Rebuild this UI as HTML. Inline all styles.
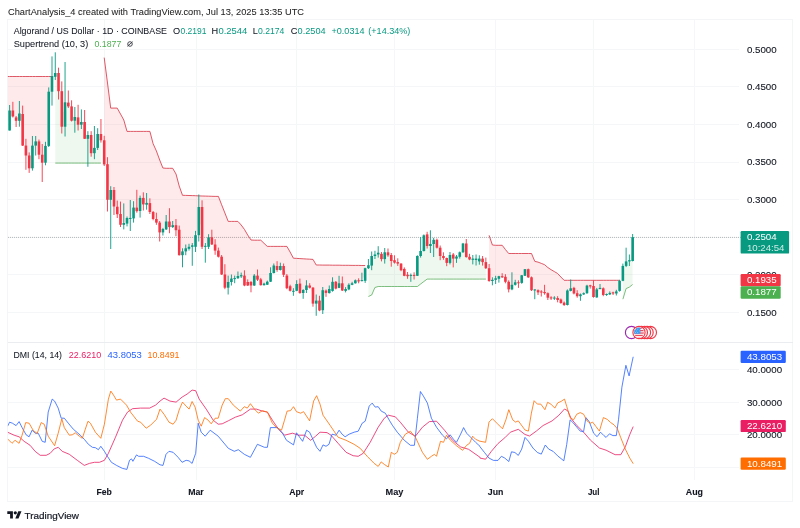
<!DOCTYPE html>
<html><head><meta charset="utf-8"><title>ChartAnalysis_4</title>
<style>
html,body{margin:0;padding:0;background:#fff;}
body{width:800px;height:528px;overflow:hidden;font-family:"Liberation Sans",sans-serif;}
svg{display:block}
svg text{font-family:"Liberation Sans",sans-serif;}
</style></head><body>
<svg width="800" height="528" viewBox="0 0 800 528" style="opacity:0.999;will-change:transform">
<rect width="800" height="528" fill="#fff"/>
<text x="8" y="14.8" font-size="9.4" fill="#1e1e1e" stroke="#1e1e1e" stroke-width="0.05" textLength="296.0" lengthAdjust="spacingAndGlyphs">ChartAnalysis_4 created with TradingView.com, Jul 13, 2025 13:35 UTC</text>
<defs><clipPath id="cm"><rect x="7.5" y="19.5" width="731.5" height="323.0"/></clipPath><clipPath id="cd"><rect x="7.5" y="342.5" width="731.5" height="137.5"/></clipPath></defs>
<g stroke="#f5f6f8" stroke-width="1" shape-rendering="crispEdges">
<line x1="104.2" y1="19.5" x2="104.2" y2="480.0"/><line x1="196.0" y1="19.5" x2="196.0" y2="480.0"/><line x1="296.7" y1="19.5" x2="296.7" y2="480.0"/><line x1="394.5" y1="19.5" x2="394.5" y2="480.0"/><line x1="495.6" y1="19.5" x2="495.6" y2="480.0"/><line x1="593.7" y1="19.5" x2="593.7" y2="480.0"/><line x1="694.4" y1="19.5" x2="694.4" y2="480.0"/><line x1="7.5" y1="49.3" x2="739.0" y2="49.3"/><line x1="7.5" y1="86.9" x2="739.0" y2="86.9"/><line x1="7.5" y1="124.5" x2="739.0" y2="124.5"/><line x1="7.5" y1="162.1" x2="739.0" y2="162.1"/><line x1="7.5" y1="199.7" x2="739.0" y2="199.7"/><line x1="7.5" y1="237.3" x2="739.0" y2="237.3"/><line x1="7.5" y1="274.9" x2="739.0" y2="274.9"/><line x1="7.5" y1="312.5" x2="739.0" y2="312.5"/><line x1="7.5" y1="369.8" x2="739.0" y2="369.8"/><line x1="7.5" y1="402.3" x2="739.0" y2="402.3"/><line x1="7.5" y1="434.6" x2="739.0" y2="434.6"/><line x1="7.5" y1="467.0" x2="739.0" y2="467.0"/></g>
<line x1="8" y1="237.4" x2="741" y2="237.4" stroke="#8a9190" stroke-width="1" stroke-dasharray="1 1" opacity="0.6"/>
<g clip-path="url(#cm)">
<polygon points="7.5,76.5 9.6,76.5 12.9,76.5 16.1,76.5 19.4,76.5 22.6,76.5 25.9,76.5 29.2,76.5 32.4,76.5 35.7,76.5 39.0,76.5 42.2,76.5 45.5,76.5 48.7,76.5 52.0,76.5 52.0,83.8 48.7,118.8 45.5,154.3 42.2,158.7 39.0,148.1 35.7,143.5 32.4,156.9 29.2,161.9 25.9,150.6 22.6,129.8 19.4,117.2 16.1,119.1 12.9,113.5 9.6,120.5 7.5,120.5" fill="#f23645" fill-opacity="0.105"/>
<polyline points="7.5,76.5 9.6,76.5 12.9,76.5 16.1,76.5 19.4,76.5 22.6,76.5 25.9,76.5 29.2,76.5 32.4,76.5 35.7,76.5 39.0,76.5 42.2,76.5 45.5,76.5 48.7,76.5 52.0,76.5" fill="none" stroke="#d83d4d" stroke-width="0.9" stroke-linejoin="round" stroke-opacity="0.95"/>
<polygon points="55.3,163.1 58.5,163.1 61.8,163.1 65.1,163.1 68.3,163.1 71.6,163.1 74.8,163.1 78.1,163.1 81.4,163.1 84.6,163.1 87.9,163.1 91.1,163.1 94.4,163.1 97.7,163.1 100.9,163.1 100.9,137.2 97.7,140.9 94.4,150.6 91.1,144.1 87.9,136.9 84.6,130.4 81.4,123.3 78.1,121.1 74.8,118.8 71.6,113.6 68.3,104.5 65.1,114.5 61.8,109.0 58.5,82.1 55.3,74.9" fill="#4caf50" fill-opacity="0.092"/>
<polyline points="55.3,163.1 58.5,163.1 61.8,163.1 65.1,163.1 68.3,163.1 71.6,163.1 74.8,163.1 78.1,163.1 81.4,163.1 84.6,163.1 87.9,163.1 91.1,163.1 94.4,163.1 97.7,163.1 100.9,163.1" fill="none" stroke="#4aa64e" stroke-width="0.9" stroke-linejoin="round" stroke-opacity="0.8"/>
<polygon points="104.2,57.6 107.5,83.0 110.7,108.1 114.0,108.1 117.2,108.1 120.5,114.0 123.8,120.0 127.0,131.4 130.3,131.4 133.6,131.4 136.8,131.4 140.1,131.4 143.3,131.4 146.6,131.4 149.9,131.4 153.1,143.7 156.4,151.0 159.7,160.0 162.9,168.0 166.2,168.3 169.4,168.3 172.7,168.3 176.0,174.0 179.2,186.0 182.5,195.3 185.7,195.4 189.0,195.5 192.3,195.6 195.5,195.7 198.8,195.9 202.1,196.0 205.3,196.1 208.6,196.2 211.8,196.3 215.1,196.4 218.4,196.4 221.6,204.7 224.9,213.0 228.2,221.4 231.4,221.4 234.7,221.4 237.9,221.4 241.2,225.0 244.5,229.5 247.7,235.0 251.0,240.0 254.2,240.2 257.5,240.2 260.8,240.2 264.0,243.3 267.3,246.4 270.6,246.4 273.8,246.4 277.1,246.4 280.3,246.4 283.6,246.4 286.9,246.4 290.1,252.0 293.4,258.2 296.7,258.4 299.9,258.6 303.2,258.8 306.4,259.0 309.7,259.2 313.0,259.4 316.2,265.0 319.5,265.0 322.8,265.1 326.0,265.1 329.3,265.1 332.5,265.2 335.8,265.2 339.1,265.2 342.3,265.3 345.6,265.3 348.8,265.3 352.1,265.4 355.4,265.4 358.6,265.4 361.9,265.5 365.2,265.5 365.2,274.5 361.9,280.6 358.6,280.9 355.4,281.8 352.1,284.1 348.8,287.1 345.6,289.9 342.3,286.9 339.1,285.6 335.8,285.2 332.5,286.4 329.3,291.1 326.0,291.8 322.8,300.2 319.5,305.6 316.2,302.1 313.0,295.6 309.7,286.6 306.4,287.8 303.2,291.5 299.9,288.3 296.7,287.4 293.4,291.3 290.1,288.5 286.9,281.9 283.6,270.4 280.3,268.0 277.1,268.0 273.8,269.2 270.6,277.4 267.3,283.2 264.0,284.4 260.8,282.3 257.5,277.6 254.2,280.6 251.0,283.8 247.7,283.8 244.5,280.6 241.2,275.8 237.9,277.1 234.7,278.6 231.4,280.3 228.2,284.9 224.9,281.1 221.6,265.6 218.4,253.6 215.1,247.6 211.8,240.9 208.6,242.1 205.3,246.3 202.1,226.9 198.8,221.1 195.5,241.0 192.3,246.1 189.0,247.8 185.7,249.9 182.5,253.3 179.2,242.4 176.0,227.7 172.7,226.1 169.4,224.3 166.2,225.4 162.9,230.7 159.7,227.5 156.4,220.8 153.1,215.5 149.9,207.6 146.6,203.8 143.3,201.2 140.1,204.4 136.8,209.4 133.6,213.0 130.3,218.4 127.0,220.8 123.8,223.9 120.5,219.4 117.2,210.4 114.0,198.2 110.7,194.9 107.5,182.0 104.2,152.4" fill="#f23645" fill-opacity="0.105"/>
<polyline points="104.2,57.6 107.5,83.0 110.7,108.1 114.0,108.1 117.2,108.1 120.5,114.0 123.8,120.0 127.0,131.4 130.3,131.4 133.6,131.4 136.8,131.4 140.1,131.4 143.3,131.4 146.6,131.4 149.9,131.4 153.1,143.7 156.4,151.0 159.7,160.0 162.9,168.0 166.2,168.3 169.4,168.3 172.7,168.3 176.0,174.0 179.2,186.0 182.5,195.3 185.7,195.4 189.0,195.5 192.3,195.6 195.5,195.7 198.8,195.9 202.1,196.0 205.3,196.1 208.6,196.2 211.8,196.3 215.1,196.4 218.4,196.4 221.6,204.7 224.9,213.0 228.2,221.4 231.4,221.4 234.7,221.4 237.9,221.4 241.2,225.0 244.5,229.5 247.7,235.0 251.0,240.0 254.2,240.2 257.5,240.2 260.8,240.2 264.0,243.3 267.3,246.4 270.6,246.4 273.8,246.4 277.1,246.4 280.3,246.4 283.6,246.4 286.9,246.4 290.1,252.0 293.4,258.2 296.7,258.4 299.9,258.6 303.2,258.8 306.4,259.0 309.7,259.2 313.0,259.4 316.2,265.0 319.5,265.0 322.8,265.1 326.0,265.1 329.3,265.1 332.5,265.2 335.8,265.2 339.1,265.2 342.3,265.3 345.6,265.3 348.8,265.3 352.1,265.4 355.4,265.4 358.6,265.4 361.9,265.5 365.2,265.5" fill="none" stroke="#d83d4d" stroke-width="0.9" stroke-linejoin="round" stroke-opacity="0.95"/>
<polygon points="368.4,296.5 371.7,295.0 374.9,287.5 378.2,286.5 381.5,286.5 384.7,286.5 388.0,286.5 391.3,286.5 394.5,286.5 397.8,286.5 401.0,286.5 404.3,286.5 407.6,286.5 410.8,286.5 414.1,286.5 417.4,286.5 420.6,284.0 423.9,281.5 427.1,279.1 430.4,279.1 433.7,279.1 436.9,279.1 440.2,279.1 443.4,279.1 446.7,279.1 450.0,279.1 453.2,279.1 456.5,279.1 459.8,279.1 463.0,279.1 466.3,279.1 469.5,279.1 472.8,279.1 476.1,279.1 479.3,279.1 482.6,279.1 485.9,279.1 485.9,265.1 482.6,260.4 479.3,260.0 476.1,259.3 472.8,259.2 469.5,258.1 466.3,250.3 463.0,247.9 459.8,254.6 456.5,257.6 453.2,256.6 450.0,258.9 446.7,260.4 443.4,257.0 440.2,251.8 436.9,243.8 433.7,241.9 430.4,245.0 427.1,240.2 423.9,243.2 420.6,253.5 417.4,265.9 414.1,275.4 410.8,275.4 407.6,275.4 404.3,272.4 401.0,266.9 397.8,262.9 394.5,261.4 391.3,258.0 388.0,253.8 384.7,255.7 381.5,256.5 378.2,253.6 374.9,255.2 371.7,260.8 368.4,266.7" fill="#4caf50" fill-opacity="0.092"/>
<polyline points="368.4,296.5 371.7,295.0 374.9,287.5 378.2,286.5 381.5,286.5 384.7,286.5 388.0,286.5 391.3,286.5 394.5,286.5 397.8,286.5 401.0,286.5 404.3,286.5 407.6,286.5 410.8,286.5 414.1,286.5 417.4,286.5 420.6,284.0 423.9,281.5 427.1,279.1 430.4,279.1 433.7,279.1 436.9,279.1 440.2,279.1 443.4,279.1 446.7,279.1 450.0,279.1 453.2,279.1 456.5,279.1 459.8,279.1 463.0,279.1 466.3,279.1 469.5,279.1 472.8,279.1 476.1,279.1 479.3,279.1 482.6,279.1 485.9,279.1" fill="none" stroke="#4aa64e" stroke-width="0.9" stroke-linejoin="round" stroke-opacity="0.8"/>
<polygon points="489.1,235.3 492.4,245.0 495.6,245.3 498.9,245.3 502.2,245.3 505.4,249.5 508.7,253.5 511.9,253.5 515.2,253.5 518.5,253.5 521.7,253.5 525.0,253.5 528.3,253.5 531.5,253.5 534.8,261.4 538.0,262.1 541.3,263.4 544.6,264.7 547.8,267.5 551.1,269.7 554.4,271.6 557.6,273.5 560.9,277.0 564.1,280.3 567.4,280.3 570.7,280.3 573.9,280.3 577.2,280.3 580.5,280.3 583.7,280.3 587.0,280.3 590.2,280.3 593.5,280.3 596.8,280.3 600.0,280.3 603.3,280.3 606.5,280.3 609.8,280.3 613.1,280.3 616.3,280.3 619.6,280.3 619.6,285.9 616.3,292.4 613.1,292.9 609.8,293.6 606.5,294.5 603.3,291.6 600.0,288.4 596.8,293.4 593.5,291.5 590.2,285.9 587.0,289.4 583.7,293.8 580.5,295.3 577.2,294.7 573.9,290.7 570.7,289.6 567.4,297.8 564.1,303.8 560.9,301.2 557.6,299.0 554.4,298.1 551.1,297.9 547.8,295.4 544.6,292.6 541.3,292.0 538.0,291.3 534.8,289.9 531.5,283.8 528.3,273.2 525.0,272.5 521.7,279.1 518.5,282.8 515.2,283.6 511.9,287.1 508.7,285.6 505.4,279.3 502.2,276.8 498.9,277.5 495.6,279.1 492.4,280.4 489.1,274.6" fill="#f23645" fill-opacity="0.105"/>
<polyline points="489.1,235.3 492.4,245.0 495.6,245.3 498.9,245.3 502.2,245.3 505.4,249.5 508.7,253.5 511.9,253.5 515.2,253.5 518.5,253.5 521.7,253.5 525.0,253.5 528.3,253.5 531.5,253.5 534.8,261.4 538.0,262.1 541.3,263.4 544.6,264.7 547.8,267.5 551.1,269.7 554.4,271.6 557.6,273.5 560.9,277.0 564.1,280.3 567.4,280.3 570.7,280.3 573.9,280.3 577.2,280.3 580.5,280.3 583.7,280.3 587.0,280.3 590.2,280.3 593.5,280.3 596.8,280.3 600.0,280.3 603.3,280.3 606.5,280.3 609.8,280.3 613.1,280.3 616.3,280.3 619.6,280.3" fill="none" stroke="#d83d4d" stroke-width="0.9" stroke-linejoin="round" stroke-opacity="0.95"/>
<polygon points="622.9,299.2 626.1,288.6 629.4,287.1 632.6,284.5 632.6,249.1 629.4,260.8 626.1,263.6 622.9,273.4" fill="#4caf50" fill-opacity="0.092"/>
<polyline points="622.9,299.2 626.1,288.6 629.4,287.1 632.6,284.5" fill="none" stroke="#4aa64e" stroke-width="0.9" stroke-linejoin="round" stroke-opacity="0.8"/>
<path d="M9.60 105.0V130.5" stroke="#089981" stroke-width="0.9"/><rect x="8.30" y="110.5" width="2.6" height="20.0" fill="#089981"/>
<path d="M12.86 101.8V117.5" stroke="#f23645" stroke-width="0.9"/><rect x="11.56" y="110.5" width="2.6" height="6.0" fill="#f23645"/>
<path d="M16.12 116.0V127.0" stroke="#f23645" stroke-width="0.9"/><rect x="14.82" y="117.4" width="2.6" height="3.4" fill="#f23645"/>
<path d="M19.39 101.0V126.7" stroke="#089981" stroke-width="0.9"/><rect x="18.09" y="113.5" width="2.6" height="7.3" fill="#089981"/>
<path d="M22.65 105.6V146.0" stroke="#f23645" stroke-width="0.9"/><rect x="21.35" y="114.0" width="2.6" height="31.6" fill="#f23645"/>
<path d="M25.91 138.8V169.8" stroke="#f23645" stroke-width="0.9"/><rect x="24.61" y="145.6" width="2.6" height="9.9" fill="#f23645"/>
<path d="M29.17 152.4V172.9" stroke="#f23645" stroke-width="0.9"/><rect x="27.87" y="155.5" width="2.6" height="12.8" fill="#f23645"/>
<path d="M32.43 136.0V170.6" stroke="#089981" stroke-width="0.9"/><rect x="31.13" y="145.6" width="2.6" height="22.7" fill="#089981"/>
<path d="M35.70 136.0V155.5" stroke="#089981" stroke-width="0.9"/><rect x="34.40" y="141.4" width="2.6" height="4.2" fill="#089981"/>
<path d="M38.96 139.5V159.2" stroke="#f23645" stroke-width="0.9"/><rect x="37.66" y="141.4" width="2.6" height="13.3" fill="#f23645"/>
<path d="M42.22 144.0V182.0" stroke="#f23645" stroke-width="0.9"/><rect x="40.92" y="154.7" width="2.6" height="8.0" fill="#f23645"/>
<path d="M45.48 141.8V165.3" stroke="#089981" stroke-width="0.9"/><rect x="44.18" y="145.9" width="2.6" height="16.8" fill="#089981"/>
<path d="M48.74 87.4V147.0" stroke="#089981" stroke-width="0.9"/><rect x="47.44" y="91.7" width="2.6" height="54.2" fill="#089981"/>
<path d="M52.01 56.4V105.6" stroke="#089981" stroke-width="0.9"/><rect x="50.71" y="76.0" width="2.6" height="15.7" fill="#089981"/>
<path d="M55.27 52.3V80.0" stroke="#089981" stroke-width="0.9"/><rect x="53.97" y="73.0" width="2.6" height="3.8" fill="#089981"/>
<path d="M58.53 67.7V99.5" stroke="#f23645" stroke-width="0.9"/><rect x="57.23" y="73.0" width="2.6" height="18.2" fill="#f23645"/>
<path d="M61.79 81.4V133.5" stroke="#f23645" stroke-width="0.9"/><rect x="60.49" y="91.2" width="2.6" height="35.5" fill="#f23645"/>
<path d="M65.05 62.0V136.5" stroke="#089981" stroke-width="0.9"/><rect x="63.75" y="102.3" width="2.6" height="24.4" fill="#089981"/>
<path d="M68.32 90.5V108.0" stroke="#f23645" stroke-width="0.9"/><rect x="67.02" y="102.6" width="2.6" height="3.8" fill="#f23645"/>
<path d="M71.58 100.3V121.5" stroke="#f23645" stroke-width="0.9"/><rect x="70.28" y="106.4" width="2.6" height="14.3" fill="#f23645"/>
<path d="M74.84 107.0V132.7" stroke="#089981" stroke-width="0.9"/><rect x="73.54" y="117.0" width="2.6" height="3.7" fill="#089981"/>
<path d="M78.10 104.8V130.5" stroke="#f23645" stroke-width="0.9"/><rect x="76.80" y="117.4" width="2.6" height="7.3" fill="#f23645"/>
<path d="M81.36 109.4V129.0" stroke="#089981" stroke-width="0.9"/><rect x="80.06" y="122.0" width="2.6" height="2.7" fill="#089981"/>
<path d="M84.63 110.0V139.0" stroke="#f23645" stroke-width="0.9"/><rect x="83.33" y="122.0" width="2.6" height="16.8" fill="#f23645"/>
<path d="M87.89 131.2V166.8" stroke="#089981" stroke-width="0.9"/><rect x="86.59" y="135.0" width="2.6" height="3.8" fill="#089981"/>
<path d="M91.15 131.2V156.7" stroke="#f23645" stroke-width="0.9"/><rect x="89.85" y="135.0" width="2.6" height="18.2" fill="#f23645"/>
<path d="M94.41 126.0V159.2" stroke="#089981" stroke-width="0.9"/><rect x="93.11" y="147.9" width="2.6" height="5.3" fill="#089981"/>
<path d="M97.67 128.2V150.0" stroke="#089981" stroke-width="0.9"/><rect x="96.37" y="134.0" width="2.6" height="13.9" fill="#089981"/>
<path d="M100.94 119.0V142.6" stroke="#f23645" stroke-width="0.9"/><rect x="99.64" y="134.0" width="2.6" height="6.3" fill="#f23645"/>
<path d="M104.20 135.8V166.0" stroke="#f23645" stroke-width="0.9"/><rect x="102.90" y="140.3" width="2.6" height="24.1" fill="#f23645"/>
<path d="M107.46 157.2V211.5" stroke="#f23645" stroke-width="0.9"/><rect x="106.16" y="164.2" width="2.6" height="35.6" fill="#f23645"/>
<path d="M110.72 186.2V249.0" stroke="#089981" stroke-width="0.9"/><rect x="109.42" y="190.0" width="2.6" height="9.8" fill="#089981"/>
<path d="M113.98 187.0V215.0" stroke="#f23645" stroke-width="0.9"/><rect x="112.68" y="190.0" width="2.6" height="16.5" fill="#f23645"/>
<path d="M117.25 200.6V218.0" stroke="#f23645" stroke-width="0.9"/><rect x="115.95" y="206.7" width="2.6" height="7.5" fill="#f23645"/>
<path d="M120.51 201.6V227.0" stroke="#f23645" stroke-width="0.9"/><rect x="119.21" y="214.0" width="2.6" height="10.8" fill="#f23645"/>
<path d="M123.77 203.4V229.4" stroke="#089981" stroke-width="0.9"/><rect x="122.47" y="223.0" width="2.6" height="1.8" fill="#089981"/>
<path d="M127.03 216.5V226.4" stroke="#089981" stroke-width="0.9"/><rect x="125.73" y="218.0" width="2.6" height="5.6" fill="#089981"/>
<path d="M130.29 200.0V231.0" stroke="#089981" stroke-width="0.9"/><rect x="128.99" y="217.9" width="2.6" height="1.0" fill="#089981"/>
<path d="M133.56 201.2V222.6" stroke="#089981" stroke-width="0.9"/><rect x="132.26" y="207.6" width="2.6" height="10.8" fill="#089981"/>
<path d="M136.82 189.8V212.7" stroke="#f23645" stroke-width="0.9"/><rect x="135.52" y="207.6" width="2.6" height="3.6" fill="#f23645"/>
<path d="M140.08 195.6V217.6" stroke="#089981" stroke-width="0.9"/><rect x="138.78" y="197.9" width="2.6" height="13.1" fill="#089981"/>
<path d="M143.34 192.3V210.5" stroke="#f23645" stroke-width="0.9"/><rect x="142.04" y="197.9" width="2.6" height="6.5" fill="#f23645"/>
<path d="M146.60 193.0V209.7" stroke="#089981" stroke-width="0.9"/><rect x="145.30" y="202.9" width="2.6" height="1.8" fill="#089981"/>
<path d="M149.87 198.3V214.0" stroke="#f23645" stroke-width="0.9"/><rect x="148.57" y="203.1" width="2.6" height="8.9" fill="#f23645"/>
<path d="M153.13 211.0V220.3" stroke="#f23645" stroke-width="0.9"/><rect x="151.83" y="212.0" width="2.6" height="7.0" fill="#f23645"/>
<path d="M156.39 212.7V224.8" stroke="#f23645" stroke-width="0.9"/><rect x="155.09" y="219.0" width="2.6" height="3.6" fill="#f23645"/>
<path d="M159.65 221.0V241.5" stroke="#f23645" stroke-width="0.9"/><rect x="158.35" y="222.6" width="2.6" height="9.8" fill="#f23645"/>
<path d="M162.91 227.9V235.5" stroke="#089981" stroke-width="0.9"/><rect x="161.61" y="229.0" width="2.6" height="3.4" fill="#089981"/>
<path d="M166.18 215.0V230.0" stroke="#089981" stroke-width="0.9"/><rect x="164.88" y="221.5" width="2.6" height="7.9" fill="#089981"/>
<path d="M169.44 208.2V233.2" stroke="#f23645" stroke-width="0.9"/><rect x="168.14" y="221.5" width="2.6" height="5.6" fill="#f23645"/>
<path d="M172.70 221.0V227.9" stroke="#089981" stroke-width="0.9"/><rect x="171.40" y="225.2" width="2.6" height="1.9" fill="#089981"/>
<path d="M175.96 219.0V236.2" stroke="#f23645" stroke-width="0.9"/><rect x="174.66" y="225.2" width="2.6" height="5.0" fill="#f23645"/>
<path d="M179.22 225.6V255.5" stroke="#f23645" stroke-width="0.9"/><rect x="177.92" y="229.7" width="2.6" height="25.5" fill="#f23645"/>
<path d="M182.49 248.3V267.3" stroke="#089981" stroke-width="0.9"/><rect x="181.19" y="251.4" width="2.6" height="3.8" fill="#089981"/>
<path d="M185.75 244.5V255.2" stroke="#089981" stroke-width="0.9"/><rect x="184.45" y="248.3" width="2.6" height="3.1" fill="#089981"/>
<path d="M189.01 243.8V250.6" stroke="#089981" stroke-width="0.9"/><rect x="187.71" y="246.8" width="2.6" height="2.0" fill="#089981"/>
<path d="M192.27 243.0V265.8" stroke="#089981" stroke-width="0.9"/><rect x="190.97" y="245.3" width="2.6" height="1.5" fill="#089981"/>
<path d="M195.53 230.9V252.0" stroke="#089981" stroke-width="0.9"/><rect x="194.23" y="235.2" width="2.6" height="11.6" fill="#089981"/>
<path d="M198.80 194.5V241.5" stroke="#089981" stroke-width="0.9"/><rect x="197.50" y="207.0" width="2.6" height="28.2" fill="#089981"/>
<path d="M202.06 200.3V249.0" stroke="#f23645" stroke-width="0.9"/><rect x="200.76" y="207.0" width="2.6" height="39.8" fill="#f23645"/>
<path d="M205.32 243.0V262.7" stroke="#089981" stroke-width="0.9"/><rect x="204.02" y="245.8" width="2.6" height="1.0" fill="#089981"/>
<path d="M208.58 234.2V249.0" stroke="#089981" stroke-width="0.9"/><rect x="207.28" y="237.3" width="2.6" height="9.5" fill="#089981"/>
<path d="M211.84 229.7V245.0" stroke="#f23645" stroke-width="0.9"/><rect x="210.54" y="237.3" width="2.6" height="7.2" fill="#f23645"/>
<path d="M215.11 239.2V254.8" stroke="#f23645" stroke-width="0.9"/><rect x="213.81" y="244.5" width="2.6" height="6.1" fill="#f23645"/>
<path d="M218.37 247.6V257.5" stroke="#f23645" stroke-width="0.9"/><rect x="217.07" y="250.6" width="2.6" height="6.1" fill="#f23645"/>
<path d="M221.63 255.0V275.0" stroke="#f23645" stroke-width="0.9"/><rect x="220.33" y="256.7" width="2.6" height="17.8" fill="#f23645"/>
<path d="M224.89 264.2V289.2" stroke="#f23645" stroke-width="0.9"/><rect x="223.59" y="274.5" width="2.6" height="13.2" fill="#f23645"/>
<path d="M228.15 275.6V294.5" stroke="#089981" stroke-width="0.9"/><rect x="226.85" y="282.0" width="2.6" height="5.7" fill="#089981"/>
<path d="M231.42 274.5V285.5" stroke="#089981" stroke-width="0.9"/><rect x="230.12" y="278.6" width="2.6" height="3.4" fill="#089981"/>
<path d="M234.68 275.6V283.2" stroke="#089981" stroke-width="0.9"/><rect x="233.38" y="278.1" width="2.6" height="1.0" fill="#089981"/>
<path d="M237.94 271.5V279.0" stroke="#089981" stroke-width="0.9"/><rect x="236.64" y="276.0" width="2.6" height="2.2" fill="#089981"/>
<path d="M241.20 272.6V278.0" stroke="#089981" stroke-width="0.9"/><rect x="239.90" y="275.2" width="2.6" height="1.2" fill="#089981"/>
<path d="M244.46 270.3V286.2" stroke="#f23645" stroke-width="0.9"/><rect x="243.16" y="275.6" width="2.6" height="9.9" fill="#f23645"/>
<path d="M247.73 279.4V286.0" stroke="#f23645" stroke-width="0.9"/><rect x="246.43" y="282.0" width="2.6" height="3.5" fill="#f23645"/>
<path d="M250.99 281.0V292.3" stroke="#f23645" stroke-width="0.9"/><rect x="249.69" y="282.0" width="2.6" height="3.5" fill="#f23645"/>
<path d="M254.25 274.0V286.0" stroke="#089981" stroke-width="0.9"/><rect x="252.95" y="275.6" width="2.6" height="9.9" fill="#089981"/>
<path d="M257.51 269.5V281.0" stroke="#f23645" stroke-width="0.9"/><rect x="256.21" y="275.6" width="2.6" height="4.1" fill="#f23645"/>
<path d="M260.77 277.9V285.5" stroke="#f23645" stroke-width="0.9"/><rect x="259.47" y="279.4" width="2.6" height="5.8" fill="#f23645"/>
<path d="M264.04 282.7V285.5" stroke="#089981" stroke-width="0.9"/><rect x="262.74" y="283.6" width="2.6" height="1.6" fill="#089981"/>
<path d="M267.30 280.6V285.0" stroke="#089981" stroke-width="0.9"/><rect x="266.00" y="281.7" width="2.6" height="3.0" fill="#089981"/>
<path d="M270.56 267.3V282.0" stroke="#089981" stroke-width="0.9"/><rect x="269.26" y="273.0" width="2.6" height="8.7" fill="#089981"/>
<path d="M273.82 263.5V273.5" stroke="#089981" stroke-width="0.9"/><rect x="272.52" y="265.5" width="2.6" height="7.5" fill="#089981"/>
<path d="M277.08 261.2V271.8" stroke="#f23645" stroke-width="0.9"/><rect x="275.78" y="266.0" width="2.6" height="4.0" fill="#f23645"/>
<path d="M280.35 262.7V270.5" stroke="#089981" stroke-width="0.9"/><rect x="279.05" y="266.0" width="2.6" height="4.0" fill="#089981"/>
<path d="M283.61 263.5V277.0" stroke="#f23645" stroke-width="0.9"/><rect x="282.31" y="266.0" width="2.6" height="8.8" fill="#f23645"/>
<path d="M286.87 274.0V289.2" stroke="#f23645" stroke-width="0.9"/><rect x="285.57" y="275.6" width="2.6" height="12.6" fill="#f23645"/>
<path d="M290.13 284.7V291.5" stroke="#f23645" stroke-width="0.9"/><rect x="288.83" y="286.2" width="2.6" height="4.6" fill="#f23645"/>
<path d="M293.39 288.2V295.8" stroke="#089981" stroke-width="0.9"/><rect x="292.09" y="290.8" width="2.6" height="1.0" fill="#089981"/>
<path d="M296.66 280.2V291.2" stroke="#089981" stroke-width="0.9"/><rect x="295.36" y="284.0" width="2.6" height="6.8" fill="#089981"/>
<path d="M299.92 278.6V293.8" stroke="#f23645" stroke-width="0.9"/><rect x="298.62" y="283.6" width="2.6" height="9.4" fill="#f23645"/>
<path d="M303.18 289.2V298.8" stroke="#089981" stroke-width="0.9"/><rect x="301.88" y="290.0" width="2.6" height="3.0" fill="#089981"/>
<path d="M306.44 280.2V293.0" stroke="#089981" stroke-width="0.9"/><rect x="305.14" y="285.5" width="2.6" height="4.5" fill="#089981"/>
<path d="M309.70 283.2V288.5" stroke="#f23645" stroke-width="0.9"/><rect x="308.40" y="285.5" width="2.6" height="2.2" fill="#f23645"/>
<path d="M312.97 287.0V306.7" stroke="#f23645" stroke-width="0.9"/><rect x="311.67" y="287.7" width="2.6" height="15.9" fill="#f23645"/>
<path d="M316.23 294.5V315.8" stroke="#089981" stroke-width="0.9"/><rect x="314.93" y="300.6" width="2.6" height="3.0" fill="#089981"/>
<path d="M319.49 295.8V311.2" stroke="#f23645" stroke-width="0.9"/><rect x="318.19" y="300.6" width="2.6" height="9.9" fill="#f23645"/>
<path d="M322.75 287.0V314.0" stroke="#089981" stroke-width="0.9"/><rect x="321.45" y="290.2" width="2.6" height="20.0" fill="#089981"/>
<path d="M326.01 289.5V296.8" stroke="#f23645" stroke-width="0.9"/><rect x="324.71" y="290.6" width="2.6" height="2.3" fill="#f23645"/>
<path d="M329.28 285.5V293.5" stroke="#089981" stroke-width="0.9"/><rect x="327.98" y="289.0" width="2.6" height="4.1" fill="#089981"/>
<path d="M332.54 277.3V291.7" stroke="#089981" stroke-width="0.9"/><rect x="331.24" y="281.8" width="2.6" height="9.1" fill="#089981"/>
<path d="M335.80 281.0V289.4" stroke="#f23645" stroke-width="0.9"/><rect x="334.50" y="281.8" width="2.6" height="6.8" fill="#f23645"/>
<path d="M339.06 275.8V288.2" stroke="#089981" stroke-width="0.9"/><rect x="337.76" y="283.3" width="2.6" height="4.6" fill="#089981"/>
<path d="M342.32 276.5V291.0" stroke="#f23645" stroke-width="0.9"/><rect x="341.02" y="283.3" width="2.6" height="7.2" fill="#f23645"/>
<path d="M345.59 287.1V292.4" stroke="#089981" stroke-width="0.9"/><rect x="344.29" y="289.0" width="2.6" height="1.9" fill="#089981"/>
<path d="M348.85 283.3V290.2" stroke="#089981" stroke-width="0.9"/><rect x="347.55" y="284.8" width="2.6" height="4.6" fill="#089981"/>
<path d="M352.11 281.8V285.2" stroke="#089981" stroke-width="0.9"/><rect x="350.81" y="283.3" width="2.6" height="1.5" fill="#089981"/>
<path d="M355.37 279.5V283.6" stroke="#089981" stroke-width="0.9"/><rect x="354.07" y="280.3" width="2.6" height="3.0" fill="#089981"/>
<path d="M358.63 278.3V283.3" stroke="#f23645" stroke-width="0.9"/><rect x="357.33" y="280.3" width="2.6" height="1.1" fill="#f23645"/>
<path d="M361.90 272.7V281.4" stroke="#089981" stroke-width="0.9"/><rect x="360.60" y="280.1" width="2.6" height="1.0" fill="#089981"/>
<path d="M365.16 267.7V282.9" stroke="#089981" stroke-width="0.9"/><rect x="363.86" y="268.2" width="2.6" height="12.6" fill="#089981"/>
<path d="M368.42 259.0V269.0" stroke="#089981" stroke-width="0.9"/><rect x="367.12" y="265.2" width="2.6" height="3.0" fill="#089981"/>
<path d="M371.68 251.5V270.2" stroke="#089981" stroke-width="0.9"/><rect x="370.38" y="256.0" width="2.6" height="9.6" fill="#089981"/>
<path d="M374.94 250.8V259.0" stroke="#089981" stroke-width="0.9"/><rect x="373.64" y="254.5" width="2.6" height="1.5" fill="#089981"/>
<path d="M378.21 246.2V257.6" stroke="#089981" stroke-width="0.9"/><rect x="376.91" y="252.7" width="2.6" height="1.8" fill="#089981"/>
<path d="M381.47 252.0V261.4" stroke="#f23645" stroke-width="0.9"/><rect x="380.17" y="253.8" width="2.6" height="5.3" fill="#f23645"/>
<path d="M384.73 248.0V263.6" stroke="#089981" stroke-width="0.9"/><rect x="383.43" y="252.3" width="2.6" height="6.8" fill="#089981"/>
<path d="M387.99 248.5V256.8" stroke="#f23645" stroke-width="0.9"/><rect x="386.69" y="252.3" width="2.6" height="3.0" fill="#f23645"/>
<path d="M391.25 253.0V266.7" stroke="#f23645" stroke-width="0.9"/><rect x="389.95" y="255.0" width="2.6" height="6.0" fill="#f23645"/>
<path d="M394.52 255.3V263.6" stroke="#f23645" stroke-width="0.9"/><rect x="393.22" y="260.2" width="2.6" height="2.4" fill="#f23645"/>
<path d="M397.78 258.3V265.9" stroke="#f23645" stroke-width="0.9"/><rect x="396.48" y="262.1" width="2.6" height="1.5" fill="#f23645"/>
<path d="M401.04 263.2V271.2" stroke="#f23645" stroke-width="0.9"/><rect x="399.74" y="263.6" width="2.6" height="6.6" fill="#f23645"/>
<path d="M404.30 267.4V276.2" stroke="#f23645" stroke-width="0.9"/><rect x="403.00" y="268.9" width="2.6" height="6.9" fill="#f23645"/>
<path d="M407.56 272.0V278.8" stroke="#f23645" stroke-width="0.9"/><rect x="406.26" y="274.7" width="2.6" height="1.5" fill="#f23645"/>
<path d="M410.83 273.5V281.8" stroke="#089981" stroke-width="0.9"/><rect x="409.53" y="274.9" width="2.6" height="1.0" fill="#089981"/>
<path d="M414.09 272.3V279.5" stroke="#f23645" stroke-width="0.9"/><rect x="412.79" y="274.9" width="2.6" height="1.0" fill="#f23645"/>
<path d="M417.35 255.3V276.0" stroke="#089981" stroke-width="0.9"/><rect x="416.05" y="256.0" width="2.6" height="19.8" fill="#089981"/>
<path d="M420.61 237.1V257.6" stroke="#089981" stroke-width="0.9"/><rect x="419.31" y="251.0" width="2.6" height="5.0" fill="#089981"/>
<path d="M423.87 234.4V251.5" stroke="#089981" stroke-width="0.9"/><rect x="422.57" y="235.3" width="2.6" height="15.7" fill="#089981"/>
<path d="M427.14 231.8V248.5" stroke="#f23645" stroke-width="0.9"/><rect x="425.84" y="234.4" width="2.6" height="11.6" fill="#f23645"/>
<path d="M430.40 230.3V253.0" stroke="#089981" stroke-width="0.9"/><rect x="429.10" y="244.0" width="2.6" height="2.0" fill="#089981"/>
<path d="M433.66 237.9V257.0" stroke="#089981" stroke-width="0.9"/><rect x="432.36" y="239.8" width="2.6" height="4.2" fill="#089981"/>
<path d="M436.92 238.6V248.5" stroke="#f23645" stroke-width="0.9"/><rect x="435.62" y="239.8" width="2.6" height="7.9" fill="#f23645"/>
<path d="M440.18 245.5V260.2" stroke="#f23645" stroke-width="0.9"/><rect x="438.88" y="247.7" width="2.6" height="8.3" fill="#f23645"/>
<path d="M443.45 252.3V259.8" stroke="#f23645" stroke-width="0.9"/><rect x="442.15" y="256.0" width="2.6" height="2.0" fill="#f23645"/>
<path d="M446.71 257.6V266.2" stroke="#f23645" stroke-width="0.9"/><rect x="445.41" y="258.0" width="2.6" height="4.9" fill="#f23645"/>
<path d="M449.97 252.0V264.4" stroke="#089981" stroke-width="0.9"/><rect x="448.67" y="255.0" width="2.6" height="7.9" fill="#089981"/>
<path d="M453.23 253.0V267.4" stroke="#f23645" stroke-width="0.9"/><rect x="451.93" y="254.5" width="2.6" height="4.1" fill="#f23645"/>
<path d="M456.49 255.0V262.9" stroke="#089981" stroke-width="0.9"/><rect x="455.19" y="256.5" width="2.6" height="2.1" fill="#089981"/>
<path d="M459.76 251.5V258.6" stroke="#089981" stroke-width="0.9"/><rect x="458.46" y="252.3" width="2.6" height="4.5" fill="#089981"/>
<path d="M463.02 242.9V252.8" stroke="#089981" stroke-width="0.9"/><rect x="461.72" y="243.5" width="2.6" height="8.8" fill="#089981"/>
<path d="M466.28 239.0V257.6" stroke="#f23645" stroke-width="0.9"/><rect x="464.98" y="243.5" width="2.6" height="13.6" fill="#f23645"/>
<path d="M469.54 253.8V260.2" stroke="#f23645" stroke-width="0.9"/><rect x="468.24" y="256.8" width="2.6" height="2.7" fill="#f23645"/>
<path d="M472.80 255.0V264.4" stroke="#089981" stroke-width="0.9"/><rect x="471.50" y="258.6" width="2.6" height="1.2" fill="#089981"/>
<path d="M476.07 254.5V265.5" stroke="#089981" stroke-width="0.9"/><rect x="474.77" y="258.6" width="2.6" height="1.4" fill="#089981"/>
<path d="M479.33 255.3V264.7" stroke="#089981" stroke-width="0.9"/><rect x="478.03" y="258.6" width="2.6" height="2.8" fill="#089981"/>
<path d="M482.59 256.0V265.6" stroke="#f23645" stroke-width="0.9"/><rect x="481.29" y="258.6" width="2.6" height="3.5" fill="#f23645"/>
<path d="M485.85 257.6V269.0" stroke="#f23645" stroke-width="0.9"/><rect x="484.55" y="262.1" width="2.6" height="6.1" fill="#f23645"/>
<path d="M489.11 264.0V281.8" stroke="#f23645" stroke-width="0.9"/><rect x="487.81" y="268.2" width="2.6" height="12.8" fill="#f23645"/>
<path d="M492.38 277.3V285.3" stroke="#089981" stroke-width="0.9"/><rect x="491.08" y="279.8" width="2.6" height="1.2" fill="#089981"/>
<path d="M495.64 275.8V284.0" stroke="#089981" stroke-width="0.9"/><rect x="494.34" y="278.3" width="2.6" height="1.5" fill="#089981"/>
<path d="M498.90 275.8V282.6" stroke="#089981" stroke-width="0.9"/><rect x="497.60" y="276.2" width="2.6" height="2.6" fill="#089981"/>
<path d="M502.16 273.2V278.0" stroke="#f23645" stroke-width="0.9"/><rect x="500.86" y="276.2" width="2.6" height="1.1" fill="#f23645"/>
<path d="M505.42 274.2V283.3" stroke="#f23645" stroke-width="0.9"/><rect x="504.12" y="276.8" width="2.6" height="5.0" fill="#f23645"/>
<path d="M508.69 280.3V292.4" stroke="#f23645" stroke-width="0.9"/><rect x="507.39" y="281.8" width="2.6" height="7.6" fill="#f23645"/>
<path d="M511.95 272.3V290.2" stroke="#089981" stroke-width="0.9"/><rect x="510.65" y="284.8" width="2.6" height="4.6" fill="#089981"/>
<path d="M515.21 279.8V285.6" stroke="#089981" stroke-width="0.9"/><rect x="513.91" y="282.3" width="2.6" height="2.5" fill="#089981"/>
<path d="M518.47 280.3V287.9" stroke="#f23645" stroke-width="0.9"/><rect x="517.17" y="282.3" width="2.6" height="1.0" fill="#f23645"/>
<path d="M521.73 275.0V283.8" stroke="#089981" stroke-width="0.9"/><rect x="520.43" y="275.3" width="2.6" height="7.6" fill="#089981"/>
<path d="M525.00 269.0V276.0" stroke="#089981" stroke-width="0.9"/><rect x="523.70" y="269.2" width="2.6" height="6.6" fill="#089981"/>
<path d="M528.26 268.6V278.0" stroke="#f23645" stroke-width="0.9"/><rect x="526.96" y="269.2" width="2.6" height="8.1" fill="#f23645"/>
<path d="M531.52 276.5V291.0" stroke="#f23645" stroke-width="0.9"/><rect x="530.22" y="277.3" width="2.6" height="12.9" fill="#f23645"/>
<path d="M534.78 289.4V299.2" stroke="#089981" stroke-width="0.9"/><rect x="533.48" y="289.4" width="2.6" height="1.1" fill="#089981"/>
<path d="M538.04 289.4V295.0" stroke="#f23645" stroke-width="0.9"/><rect x="536.74" y="290.2" width="2.6" height="2.2" fill="#f23645"/>
<path d="M541.31 290.2V296.5" stroke="#f23645" stroke-width="0.9"/><rect x="540.01" y="291.5" width="2.6" height="1.0" fill="#f23645"/>
<path d="M544.57 284.8V294.7" stroke="#f23645" stroke-width="0.9"/><rect x="543.27" y="292.0" width="2.6" height="1.2" fill="#f23645"/>
<path d="M547.83 292.4V300.0" stroke="#f23645" stroke-width="0.9"/><rect x="546.53" y="293.2" width="2.6" height="4.5" fill="#f23645"/>
<path d="M551.09 296.2V300.0" stroke="#f23645" stroke-width="0.9"/><rect x="549.79" y="297.4" width="2.6" height="1.1" fill="#f23645"/>
<path d="M554.35 296.2V300.0" stroke="#089981" stroke-width="0.9"/><rect x="553.05" y="297.6" width="2.6" height="1.0" fill="#089981"/>
<path d="M557.62 296.2V302.3" stroke="#f23645" stroke-width="0.9"/><rect x="556.32" y="298.0" width="2.6" height="2.0" fill="#f23645"/>
<path d="M560.88 298.5V303.8" stroke="#f23645" stroke-width="0.9"/><rect x="559.58" y="299.5" width="2.6" height="3.5" fill="#f23645"/>
<path d="M564.14 301.5V306.0" stroke="#f23645" stroke-width="0.9"/><rect x="562.84" y="302.6" width="2.6" height="2.4" fill="#f23645"/>
<path d="M567.40 289.4V305.5" stroke="#089981" stroke-width="0.9"/><rect x="566.10" y="290.5" width="2.6" height="14.5" fill="#089981"/>
<path d="M570.66 279.5V291.4" stroke="#089981" stroke-width="0.9"/><rect x="569.36" y="288.3" width="2.6" height="2.6" fill="#089981"/>
<path d="M573.93 286.8V294.4" stroke="#f23645" stroke-width="0.9"/><rect x="572.63" y="287.9" width="2.6" height="5.6" fill="#f23645"/>
<path d="M577.19 290.2V297.7" stroke="#f23645" stroke-width="0.9"/><rect x="575.89" y="293.2" width="2.6" height="3.0" fill="#f23645"/>
<path d="M580.45 293.5V300.8" stroke="#089981" stroke-width="0.9"/><rect x="579.15" y="294.4" width="2.6" height="1.8" fill="#089981"/>
<path d="M583.71 292.4V295.0" stroke="#089981" stroke-width="0.9"/><rect x="582.41" y="293.2" width="2.6" height="1.2" fill="#089981"/>
<path d="M586.97 284.8V293.9" stroke="#089981" stroke-width="0.9"/><rect x="585.67" y="285.6" width="2.6" height="7.6" fill="#089981"/>
<path d="M590.24 284.8V288.6" stroke="#f23645" stroke-width="0.9"/><rect x="588.94" y="285.3" width="2.6" height="1.1" fill="#f23645"/>
<path d="M593.50 280.3V297.7" stroke="#f23645" stroke-width="0.9"/><rect x="592.20" y="286.0" width="2.6" height="11.0" fill="#f23645"/>
<path d="M596.76 287.9V297.8" stroke="#089981" stroke-width="0.9"/><rect x="595.46" y="289.4" width="2.6" height="8.0" fill="#089981"/>
<path d="M600.02 284.0V289.4" stroke="#089981" stroke-width="0.9"/><rect x="598.72" y="287.9" width="2.6" height="1.1" fill="#089981"/>
<path d="M603.28 287.4V296.2" stroke="#f23645" stroke-width="0.9"/><rect x="601.98" y="288.3" width="2.6" height="6.7" fill="#f23645"/>
<path d="M606.55 293.5V295.9" stroke="#089981" stroke-width="0.9"/><rect x="605.25" y="294.0" width="2.6" height="1.0" fill="#089981"/>
<path d="M609.81 291.4V295.0" stroke="#089981" stroke-width="0.9"/><rect x="608.51" y="292.9" width="2.6" height="1.5" fill="#089981"/>
<path d="M613.07 291.7V295.0" stroke="#f23645" stroke-width="0.9"/><rect x="611.77" y="292.4" width="2.6" height="1.1" fill="#f23645"/>
<path d="M616.33 289.8V295.5" stroke="#089981" stroke-width="0.9"/><rect x="615.03" y="291.4" width="2.6" height="2.1" fill="#089981"/>
<path d="M619.59 279.8V291.7" stroke="#089981" stroke-width="0.9"/><rect x="618.29" y="280.8" width="2.6" height="10.1" fill="#089981"/>
<path d="M622.86 263.6V281.2" stroke="#089981" stroke-width="0.9"/><rect x="621.56" y="265.9" width="2.6" height="14.9" fill="#089981"/>
<path d="M626.12 247.7V267.1" stroke="#089981" stroke-width="0.9"/><rect x="624.82" y="261.4" width="2.6" height="4.5" fill="#089981"/>
<path d="M629.38 254.5V266.0" stroke="#089981" stroke-width="0.9"/><rect x="628.08" y="260.2" width="2.6" height="1.2" fill="#089981"/>
<path d="M632.64 234.0V261.4" stroke="#089981" stroke-width="0.9"/><rect x="631.34" y="237.1" width="2.6" height="23.9" fill="#089981"/>
</g>
<g clip-path="url(#cd)" fill="none" stroke-width="0.8" stroke-linejoin="round">
<polyline points="7.6,432.2 14.1,435.2 19.1,436.8 24.1,441.3 30.1,445.3 35.1,451.3 40.2,455.3 46.2,455.3 50.2,453.3 54.2,448.9 58.2,447.3 62.2,451.3 69.3,454.3 77.3,460.3 84.3,465.4 89.4,463.4 94.4,462.3 99.4,462.3 104.4,460.3 108.4,453.3 115.5,437.2 122.5,420.2 127.5,412.1 132.5,408.7 140.6,408.1 149.6,408.1 155.6,405.1 160.0,401.1 164.0,398.1 170.0,401.1 176.1,402.1 182.1,397.1 187.1,394.1 192.1,390.1 195.7,390.7 199.2,399.1 206.2,409.1 213.2,420.2 218.2,424.2 222.2,423.8 228.3,420.8 235.3,417.2 242.3,414.8 250.4,409.1 256.4,409.1 262.4,411.1 267.4,412.1 272.4,420.2 278.5,429.2 284.5,435.2 292.5,433.2 298.6,435.2 304.6,435.2 310.6,440.3 315.6,436.2 320.0,432.2 327.0,432.6 331.0,435.2 338.1,443.3 346.1,452.3 353.1,455.7 358.2,456.3 363.2,453.3 370.2,442.3 378.2,427.2 384.3,418.2 388.3,415.2 395.3,416.8 400.3,422.2 408.4,432.2 415.4,436.2 422.4,427.2 429.4,421.6 436.5,421.2 444.5,430.2 452.5,440.3 460.6,446.9 468.6,449.3 480.0,457.3 480.0,458.1 485.6,459.2 491.3,451.4 498.0,443.5 504.8,437.8 510.4,432.2 518.3,429.3 525.0,434.5 529.5,436.0 536.3,431.1 543.1,425.5 552.1,420.9 558.8,415.3 564.5,409.0 567.8,410.8 571.2,418.7 576.8,425.5 583.6,432.2 590.4,440.1 599.4,448.0 606.1,450.2 615.1,454.7 620.8,454.7 625.3,446.8 629.8,434.5 633.2,426.6" stroke="#e91e63"/>
<polyline points="7.6,426.2 9.6,422.2 12.4,423.2 16.1,425.6 19.1,421.6 22.1,427.6 26.1,434.8 29.1,436.8 32.1,430.2 35.1,433.2 38.2,433.2 42.2,441.3 45.2,442.3 48.2,412.1 52.2,399.1 54.6,401.1 58.2,408.1 61.2,418.2 64.3,418.2 68.3,423.2 73.3,429.2 80.3,435.2 84.3,439.3 88.4,444.3 92.4,447.3 95.4,447.7 98.4,449.7 100.8,446.3 104.4,451.3 107.4,456.3 111.4,462.3 116.5,465.4 122.5,468.4 126.9,469.4 129.5,460.3 131.5,458.9 132.9,461.3 136.5,454.9 138.6,456.3 143.6,456.3 148.6,458.3 154.6,461.3 160.0,464.8 163.0,465.4 166.0,454.3 169.0,451.3 173.1,452.3 178.1,457.3 182.1,462.3 186.1,460.3 189.1,460.9 192.1,463.4 195.7,453.3 198.2,423.2 201.2,432.2 205.2,436.2 210.2,430.2 218.2,436.2 228.3,448.3 234.3,451.3 238.3,449.7 244.3,454.3 250.4,457.3 257.4,444.3 264.4,447.3 267.4,447.3 270.4,427.6 277.5,427.6 282.5,433.2 286.5,440.3 293.5,444.9 296.5,432.8 302.6,441.3 306.6,430.2 309.6,432.2 316.6,447.3 320.0,451.3 323.0,444.9 326.0,446.3 329.0,444.3 332.0,434.2 336.1,435.2 339.1,430.2 342.1,434.2 345.1,436.8 349.1,434.2 354.1,432.2 358.2,431.2 362.2,423.2 365.2,421.2 369.2,406.1 372.2,403.1 375.2,407.1 378.2,406.7 381.2,411.1 385.3,413.2 389.3,420.2 392.3,425.2 397.3,432.2 404.3,440.3 410.4,445.3 414.4,445.3 417.4,418.2 420.4,391.5 423.4,396.1 427.4,403.1 431.4,418.2 436.5,427.2 442.5,435.2 446.5,438.9 450.1,434.8 453.5,439.3 456.5,442.3 460.6,434.2 463.6,427.6 466.6,433.2 470.6,437.2 475.6,442.3 480.0,446.3 480.0,446.8 484.5,452.5 489.0,458.1 493.5,460.4 498.0,460.4 501.4,456.3 504.8,458.1 508.8,461.5 511.5,451.8 514.9,452.5 518.3,455.4 521.7,449.1 525.0,437.4 528.4,441.2 532.9,448.0 537.4,452.5 541.3,454.1 545.3,445.0 548.7,449.1 553.2,451.4 557.7,455.9 563.8,460.8 566.7,444.6 570.1,419.8 573.5,423.2 580.2,431.1 583.6,431.5 585.9,417.6 589.2,421.6 593.7,433.3 597.1,436.7 600.5,432.2 603.9,435.6 606.1,437.4 609.5,433.8 612.9,435.6 616.3,435.6 618.5,419.8 621.9,387.2 625.9,365.3 629.1,375.9 633.2,356.8" stroke="#2962ff"/>
<polyline points="7.6,438.9 12.0,443.3 15.1,440.3 19.1,443.3 22.1,435.2 25.7,422.6 29.1,423.2 33.1,430.2 37.1,433.6 41.2,422.6 44.2,424.2 48.2,436.2 54.6,445.7 58.2,433.2 61.8,418.8 64.3,427.6 69.3,435.2 72.3,434.8 75.3,432.8 79.3,436.2 82.3,438.3 85.3,429.2 88.0,421.2 90.4,423.2 95.4,432.2 100.8,438.3 104.4,424.2 108.4,399.1 110.8,391.1 113.5,395.1 116.5,400.1 120.5,399.1 123.5,402.1 126.5,405.1 130.5,412.1 137.6,421.2 140.6,422.2 146.2,428.2 150.6,425.2 156.6,419.2 160.0,409.1 164.0,414.2 169.0,422.2 173.1,424.2 176.1,420.2 179.1,410.1 182.5,402.1 186.1,406.1 189.1,409.1 192.1,401.5 195.1,407.1 198.2,420.2 201.2,426.2 204.6,417.6 208.2,420.2 211.2,423.8 215.2,418.2 218.2,418.2 222.2,405.1 225.3,398.7 228.3,398.7 233.3,405.1 240.3,411.1 244.3,406.7 247.3,408.1 250.4,403.7 254.4,409.1 258.4,413.2 262.4,410.7 267.4,412.1 272.4,423.2 276.5,427.6 281.5,430.2 284.5,420.2 287.1,411.1 290.5,410.7 293.5,406.7 296.5,411.7 300.6,413.2 303.6,411.7 309.6,420.8 313.6,401.1 316.6,395.7 320.0,404.1 323.0,415.2 330.0,425.2 338.1,437.2 346.1,440.3 354.1,444.3 360.2,448.3 367.2,456.3 374.2,463.4 378.2,466.4 381.2,461.9 384.3,464.4 388.3,467.0 391.3,452.3 394.3,454.3 397.3,452.3 400.3,442.3 405.3,434.2 410.4,431.2 415.4,437.2 422.4,452.3 427.4,459.3 431.4,456.3 434.5,454.3 436.5,456.3 440.5,441.3 443.5,442.3 446.5,435.2 450.5,440.3 456.5,445.7 462.6,450.3 466.6,445.3 469.6,443.3 472.6,436.2 475.6,439.3 480.0,441.3 480.0,441.2 485.6,442.3 489.0,422.1 492.4,418.7 496.9,423.2 502.5,428.8 505.9,419.8 508.8,409.7 512.7,419.8 515.6,422.1 518.3,420.9 525.0,430.0 528.4,431.1 531.4,413.1 534.1,400.7 537.4,404.1 540.8,404.1 544.9,409.7 547.6,402.3 550.9,404.1 554.8,408.1 557.7,402.9 561.1,401.4 564.5,399.1 566.7,406.3 570.1,417.6 573.5,419.8 576.8,414.2 580.2,412.6 583.6,414.2 587.0,420.9 590.4,423.2 592.6,422.1 596.0,426.6 599.4,431.1 603.4,417.6 607.3,419.4 610.6,422.5 614.0,424.8 617.4,428.8 620.8,437.8 625.3,449.1 629.8,458.1 633.2,463.7" stroke="#ff6d00"/>
</g>
<rect x="7.5" y="19.5" width="785.0" height="482.0" fill="none" stroke="#eaecf0" stroke-width="1" shape-rendering="crispEdges" opacity="0.5"/>
<line x1="7.5" y1="342.5" x2="792.5" y2="342.5" stroke="#eaecf0" stroke-width="1" shape-rendering="crispEdges"/>
<text x="13.75" y="34.2" font-size="9.2" fill="#131722" stroke="#131722" stroke-width="0.05" textLength="153.2" lengthAdjust="spacingAndGlyphs">Algorand / US Dollar · 1D · COINBASE</text>
<text x="173" y="34.2" font-size="9.2" fill="#131722" stroke="#131722" stroke-width="0.05">O</text>
<text x="180.4" y="34.2" font-size="9.2" fill="#089981" stroke="#089981" stroke-width="0" textLength="26.1" lengthAdjust="spacingAndGlyphs">0.2191</text>
<text x="211.6" y="34.2" font-size="9.2" fill="#131722" stroke="#131722" stroke-width="0.05">H</text>
<text x="218.4" y="34.2" font-size="9.2" fill="#089981" stroke="#089981" stroke-width="0" textLength="28.9" lengthAdjust="spacingAndGlyphs">0.2544</text>
<text x="252.8" y="34.2" font-size="9.2" fill="#131722" stroke="#131722" stroke-width="0.05">L</text>
<text x="258.0" y="34.2" font-size="9.2" fill="#089981" stroke="#089981" stroke-width="0" textLength="26.4" lengthAdjust="spacingAndGlyphs">0.2174</text>
<text x="290.8" y="34.2" font-size="9.2" fill="#131722" stroke="#131722" stroke-width="0.05">C</text>
<text x="297.6" y="34.2" font-size="9.2" fill="#089981" stroke="#089981" stroke-width="0" textLength="28.1" lengthAdjust="spacingAndGlyphs">0.2504</text>
<text x="331.5" y="34.2" font-size="9.2" fill="#089981" stroke="#089981" stroke-width="0" textLength="33.0" lengthAdjust="spacingAndGlyphs">+0.0314</text>
<text x="368.3" y="34.2" font-size="9.2" fill="#089981" stroke="#089981" stroke-width="0" textLength="42.1" lengthAdjust="spacingAndGlyphs">(+14.34%)</text>
<text x="13.75" y="46.5" font-size="9.2" fill="#131722" stroke="#131722" stroke-width="0.05" textLength="74.5" lengthAdjust="spacingAndGlyphs">Supertrend (10, 3)</text>
<text x="94.5" y="46.5" font-size="9.2" fill="#4caf50" stroke="#4caf50" stroke-width="0" textLength="26.8" lengthAdjust="spacingAndGlyphs">0.1877</text>
<g stroke="#2a2e39" stroke-width="0.85" fill="none"><circle cx="130" cy="44" r="2.3"/><line x1="127.4" y1="46.3" x2="132.6" y2="41.7"/></g>
<text x="13.5" y="358.3" font-size="9.2" fill="#131722" stroke="#131722" stroke-width="0.05" textLength="48.5" lengthAdjust="spacingAndGlyphs">DMI (14, 14)</text>
<text x="68.75" y="358.3" font-size="9.2" fill="#e91e63" stroke="#e91e63" stroke-width="0" textLength="32.5" lengthAdjust="spacingAndGlyphs">22.6210</text>
<text x="107.5" y="358.3" font-size="9.2" fill="#2962ff" stroke="#2962ff" stroke-width="0" textLength="34.2" lengthAdjust="spacingAndGlyphs">43.8053</text>
<text x="147.5" y="358.3" font-size="9.2" fill="#ff6d00" stroke="#ff6d00" stroke-width="0" textLength="32.0" lengthAdjust="spacingAndGlyphs">10.8491</text>
<text x="746.9" y="52.6" font-size="9.6" fill="#131722" stroke="#131722" stroke-width="0.1" textLength="29.8" lengthAdjust="spacingAndGlyphs">0.5000</text>
<text x="746.9" y="90.2" font-size="9.6" fill="#131722" stroke="#131722" stroke-width="0.1" textLength="29.8" lengthAdjust="spacingAndGlyphs">0.4500</text>
<text x="746.9" y="127.8" font-size="9.6" fill="#131722" stroke="#131722" stroke-width="0.1" textLength="29.8" lengthAdjust="spacingAndGlyphs">0.4000</text>
<text x="746.9" y="165.4" font-size="9.6" fill="#131722" stroke="#131722" stroke-width="0.1" textLength="29.8" lengthAdjust="spacingAndGlyphs">0.3500</text>
<text x="746.9" y="203.0" font-size="9.6" fill="#131722" stroke="#131722" stroke-width="0.1" textLength="29.8" lengthAdjust="spacingAndGlyphs">0.3000</text>
<text x="746.9" y="278.2" font-size="9.6" fill="#131722" stroke="#131722" stroke-width="0.1" textLength="29.8" lengthAdjust="spacingAndGlyphs">0.2000</text>
<text x="746.9" y="315.8" font-size="9.6" fill="#131722" stroke="#131722" stroke-width="0.1" textLength="29.8" lengthAdjust="spacingAndGlyphs">0.1500</text>
<text x="746.9" y="373.1" font-size="9.6" fill="#131722" stroke="#131722" stroke-width="0.1" textLength="35.2" lengthAdjust="spacingAndGlyphs">40.0000</text>
<text x="746.9" y="405.6" font-size="9.6" fill="#131722" stroke="#131722" stroke-width="0.1" textLength="35.2" lengthAdjust="spacingAndGlyphs">30.0000</text>
<text x="746.9" y="437.9" font-size="9.6" fill="#131722" stroke="#131722" stroke-width="0.1" textLength="35.2" lengthAdjust="spacingAndGlyphs">20.0000</text>
<rect x="740.6" y="231" width="48.5" height="22.6" rx="1.2" fill="#089981"/><text x="746.9" y="240.1" font-size="9.6" fill="#fff" stroke="#fff" stroke-width="0" textLength="29.8" lengthAdjust="spacingAndGlyphs" fill-opacity="1">0.2504</text>
<text x="746.9" y="250.7" font-size="9.6" fill="#fff" stroke="#fff" stroke-width="0" textLength="37.6" lengthAdjust="spacingAndGlyphs" fill-opacity="0.8">10:24:54</text>
<rect x="740.6" y="274" width="40.1" height="12.3" rx="1.2" fill="#f23645"/><text x="746.9" y="283.1" font-size="9.6" fill="#fff" stroke="#fff" stroke-width="0" textLength="29.8" lengthAdjust="spacingAndGlyphs" fill-opacity="1">0.1935</text>
<rect x="740.6" y="286.3" width="40.1" height="12.4" rx="1.2" fill="#4caf50"/><text x="746.9" y="295.0" font-size="9.6" fill="#fff" stroke="#fff" stroke-width="0" textLength="29.8" lengthAdjust="spacingAndGlyphs" fill-opacity="1">0.1877</text>
<rect x="740.6" y="350.8" width="45.2" height="12.1" rx="1.2" fill="#2962ff"/><text x="746.9" y="360.0" font-size="9.6" fill="#fff" stroke="#fff" stroke-width="0" textLength="35.3" lengthAdjust="spacingAndGlyphs" fill-opacity="1">43.8053</text>
<rect x="740.6" y="420.0" width="45.2" height="12.1" rx="1.2" fill="#e91e63"/><text x="746.9" y="429.2" font-size="9.6" fill="#fff" stroke="#fff" stroke-width="0" textLength="35.3" lengthAdjust="spacingAndGlyphs" fill-opacity="1">22.6210</text>
<rect x="740.6" y="457.6" width="45.2" height="12.1" rx="1.2" fill="#ff6d00"/><text x="746.9" y="466.8" font-size="9.6" fill="#fff" stroke="#fff" stroke-width="0" textLength="35.3" lengthAdjust="spacingAndGlyphs" fill-opacity="1">10.8491</text>
<text x="96.5" y="495.4" font-size="9.6" fill="#131722" stroke="#131722" stroke-width="0.1" textLength="15.4" lengthAdjust="spacingAndGlyphs" font-weight="bold">Feb</text>
<text x="188.2" y="495.4" font-size="9.6" fill="#131722" stroke="#131722" stroke-width="0.1" textLength="15.6" lengthAdjust="spacingAndGlyphs" font-weight="bold">Mar</text>
<text x="289.2" y="495.4" font-size="9.6" fill="#131722" stroke="#131722" stroke-width="0.1" textLength="15.0" lengthAdjust="spacingAndGlyphs" font-weight="bold">Apr</text>
<text x="385.6" y="495.4" font-size="9.6" fill="#131722" stroke="#131722" stroke-width="0.1" textLength="17.8" lengthAdjust="spacingAndGlyphs" font-weight="bold">May</text>
<text x="487.8" y="495.4" font-size="9.6" fill="#131722" stroke="#131722" stroke-width="0.1" textLength="15.6" lengthAdjust="spacingAndGlyphs" font-weight="bold">Jun</text>
<text x="587.9" y="495.4" font-size="9.6" fill="#131722" stroke="#131722" stroke-width="0.1" textLength="11.6" lengthAdjust="spacingAndGlyphs" font-weight="bold">Jul</text>
<text x="685.8" y="495.4" font-size="9.6" fill="#131722" stroke="#131722" stroke-width="0.1" textLength="17.2" lengthAdjust="spacingAndGlyphs" font-weight="bold">Aug</text>
<g stroke-width="1.15" fill="#fff"><circle cx="650.4" cy="332.5" r="6.1" stroke="#f23645"/><circle cx="647.1" cy="332.5" r="6.1" stroke="#f23645"/><circle cx="644.5" cy="332.5" r="6.1" stroke="#f23645"/><circle cx="641.4" cy="332.5" r="6.1" stroke="#f23645"/><circle cx="631.5" cy="332.5" r="6.1" stroke="#9c27b0"/><circle cx="639.0" cy="332.5" r="6.1" stroke="#f23645"/></g>
<g><clipPath id="fc"><circle cx="639.0" cy="332.5" r="4.9"/></clipPath><g clip-path="url(#fc)"><rect x="633" y="326.5" width="12" height="12" fill="#fff"/><rect x="633" y="327.6" width="12" height="1.3" fill="#ef4a5a"/><rect x="633" y="330.0" width="12" height="1.3" fill="#ef4a5a"/><rect x="633" y="332.4" width="12" height="1.3" fill="#ef4a5a"/><rect x="633" y="334.8" width="12" height="1.3" fill="#ef4a5a"/><rect x="633" y="337.2" width="12" height="1.3" fill="#ef4a5a"/><rect x="633" y="326.5" width="7.4" height="7.3" fill="#3d9df0"/><circle cx="635.6" cy="329.2" r="0.4" fill="#fff" fill-opacity="0.8"/><circle cx="637.8" cy="329.2" r="0.4" fill="#fff" fill-opacity="0.8"/><circle cx="636.7" cy="330.9" r="0.4" fill="#fff" fill-opacity="0.8"/><circle cx="635.6" cy="332.5" r="0.4" fill="#fff" fill-opacity="0.8"/><circle cx="637.8" cy="332.5" r="0.4" fill="#fff" fill-opacity="0.8"/><circle cx="639.3" cy="330.9" r="0.4" fill="#fff" fill-opacity="0.8"/></g></g>
<g transform="translate(7.3,509.6) scale(0.4)" fill="#131722"><path d="M14 22H7V11H0V4h14v18zM28 22h-8l7.5-18h8L28 22z"/><circle cx="20" cy="8" r="4"/></g>
<text x="24.6" y="518.8" font-size="9.8" fill="#131722" stroke="#131722" stroke-width="0.2" textLength="54.4" lengthAdjust="spacingAndGlyphs">TradingView</text>
</svg>
</body></html>
